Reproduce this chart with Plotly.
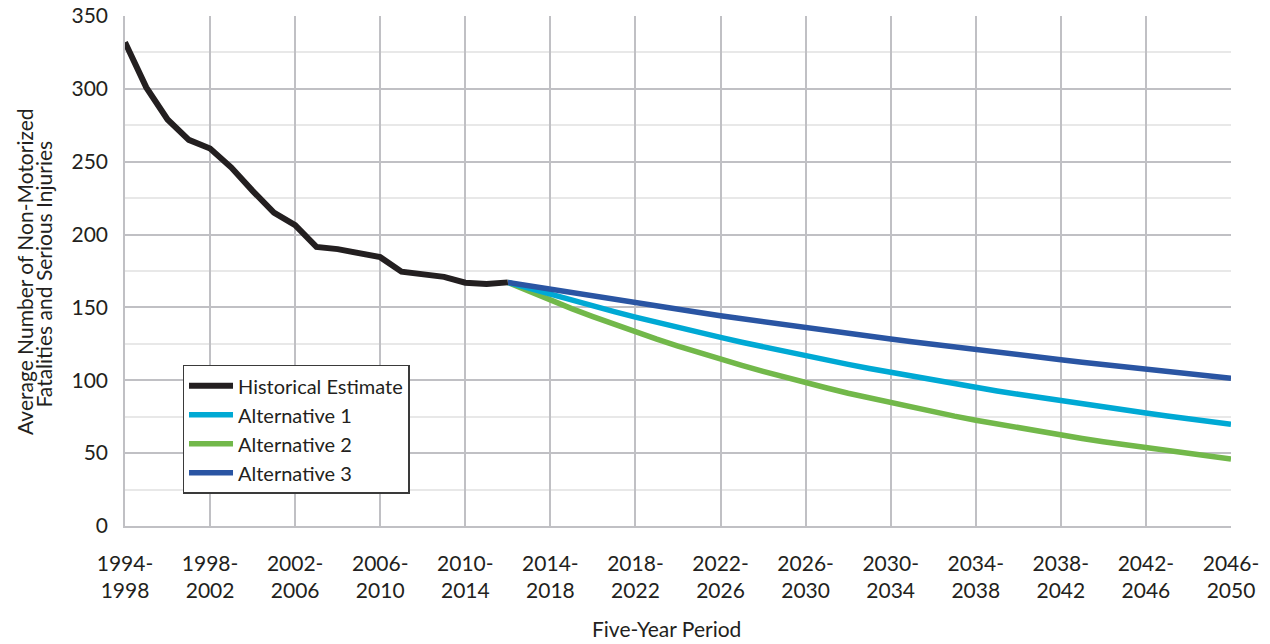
import plotly.graph_objects as go

start_years = list(range(1994, 2047))
periods = [f"{y}-{y + 4}" for y in start_years]
tick_periods = periods[::4]
tick_labels = [p.replace("-", "-<br>") for p in tick_periods]

historical = [332, 301, 279, 265, 259, 246, 230, 215, 206.5, 191.5, 190, 187,
              184.5, 174.5, 173, 171, 167, 166, 167.2]

alt1 = [167.2, 163.0, 158.9, 154.8, 150.9, 147.1, 143.4, 139.7, 136.2, 132.7,
        129.4, 126.1, 122.9, 119.8, 116.8, 113.8, 110.9, 108.1, 105.4, 102.7,
        100.1, 97.6, 95.1, 92.7, 90.4, 88.1, 85.8, 83.7, 81.5, 79.5, 77.5,
        75.5, 73.6, 71.7, 69.9]
alt2 = [167.2, 161.0, 155.0, 149.2, 143.7, 138.3, 133.2, 128.2, 123.5, 118.9,
        114.4, 110.2, 106.1, 102.1, 98.3, 94.7, 91.1, 87.8, 84.5, 81.3, 78.3,
        75.4, 72.6, 69.9, 67.3, 64.8, 62.4, 60.0, 57.8, 55.7, 53.6, 51.6,
        49.7, 47.8, 46.0]
alt3 = [167.2, 164.8, 162.4, 160.0, 157.6, 155.4, 153.1, 150.9, 148.7, 146.5,
        144.3, 142.2, 140.2, 138.1, 136.1, 134.1, 132.2, 130.2, 128.3, 126.5,
        124.6, 122.8, 121.0, 119.3, 117.5, 115.8, 114.1, 112.4, 110.8, 109.2,
        107.6, 106.0, 104.5, 102.9, 101.4]

y_title_lines = ["Average Number of Non-Motorized", "Fatalities and Serious Injuries"]
x_title = "Five-Year Period"

hist_x = periods[:len(historical)]
alt_x = periods[len(historical) - 1:]

FONT = "Lato"
TXT = "#231f20"
fig = go.Figure()
fig.add_trace(go.Scatter(x=alt_x, y=alt2, mode="lines", name="Alternative 2",
                         line=dict(color="#72b84a", width=5.5), legendrank=3))
fig.add_trace(go.Scatter(x=alt_x, y=alt1, mode="lines", name="Alternative 1",
                         line=dict(color="#00a9d4", width=5.5), legendrank=2))
fig.add_trace(go.Scatter(x=alt_x, y=alt3, mode="lines", name="Alternative 3",
                         line=dict(color="#2a55a3", width=5.5), legendrank=4))
fig.add_trace(go.Scatter(x=hist_x, y=historical, mode="lines", name="Historical Estimate",
                         line=dict(color="#231f20", width=6), legendrank=1))

# plot area at x 125-1231, y 16-526 (page body margin removed below)
fig.update_layout(
    width=1270, height=644,
    margin=dict(l=125, r=39, t=16, b=118, autoexpand=False),
    paper_bgcolor="white", plot_bgcolor="white",
    font=dict(family=FONT, color=TXT, size=21),
    showlegend=True,
    legend=dict(x=0.052, y=0.316, xanchor="left", yanchor="top",
                bgcolor="white", bordercolor="#3a3a3a", borderwidth=1.5,
                font=dict(size=20, family=FONT, color=TXT), itemwidth=44,
                tracegroupgap=0, traceorder="normal"),
    xaxis=dict(
        type="category", categoryorder="array", categoryarray=periods,
        range=[0, len(periods) - 1],
        tickmode="array", tickvals=tick_periods, ticktext=tick_labels,
        showgrid=True, gridcolor="#c0c0c4", gridwidth=1.5,
        showline=True, linecolor="#c0c0c4", linewidth=1.5,
        ticks="", ticklabelstandoff=18, tickfont=dict(size=21),
        ticklabeloverflow="allow",
        zeroline=False, fixedrange=True, automargin=False,
    ),
    yaxis=dict(
        range=[0, 350], dtick=50, tick0=0,
        showgrid=True, gridcolor="#c0c0c4", gridwidth=1.5,
        minor=dict(dtick=25, showgrid=True, gridcolor="#e8e8e8", gridwidth=1.5),
        showline=True, linecolor="#c0c0c4", linewidth=1.5,
        ticks="", ticklabelstandoff=11, tickfont=dict(size=21),
        ticklabeloverflow="allow",
        zeroline=False, fixedrange=True, automargin=False,
    ),
)

# axis titles as annotations (tight line spacing as in the reference)
fig.add_annotation(text=y_title_lines[0], xref="paper", yref="paper",
                   x=-0.0913, y=0.498, xanchor="center", yanchor="middle",
                   textangle=-90, showarrow=False, font=dict(size=21, color=TXT))
fig.add_annotation(text=y_title_lines[1], xref="paper", yref="paper",
                   x=-0.0737, y=0.494, xanchor="center", yanchor="middle",
                   textangle=-90, showarrow=False, font=dict(size=21, color=TXT))
fig.add_annotation(text=x_title, xref="paper", yref="paper",
                   x=0.49, y=-0.2, xanchor="center", yanchor="middle",
                   showarrow=False, font=dict(size=21, color=TXT))

fig.write_html("out.html",
               config={"displayModeBar": False},
               post_script="document.body.style.margin='0px';")
